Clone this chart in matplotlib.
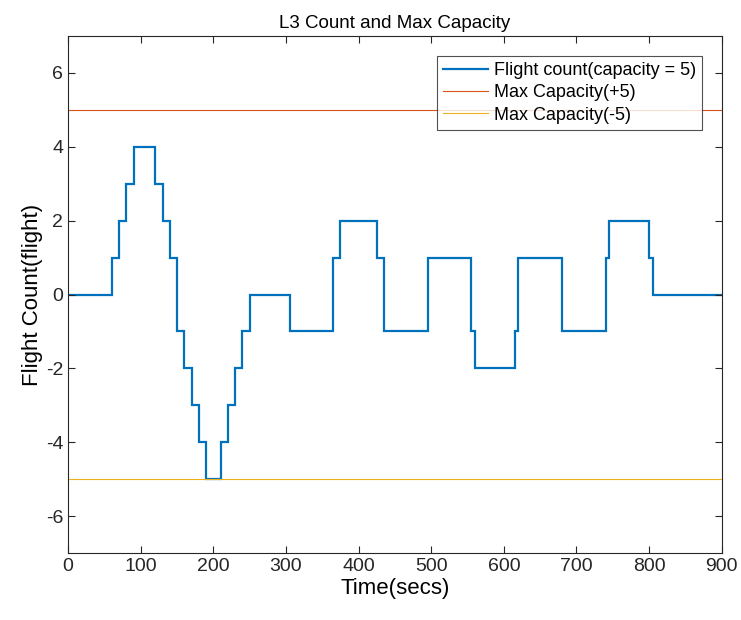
import numpy as np
import matplotlib.pyplot as plt

plt.rcParams['font.family'] = ['Liberation Sans', 'DejaVu Sans']
plt.rcParams['axes.unicode_minus'] = False

# step change times (secs) and flight count held after each time
times = [0, 60, 70, 80, 90, 120, 130, 140, 150, 160, 170, 180, 190, 210, 220, 230,
         240, 250, 305, 365, 375, 425, 435, 495, 555, 560, 615, 620, 680, 740, 745,
         800, 805, 900]
counts = [0, 1, 2, 3, 4, 3, 2, 1, -1, -2, -3, -4, -5, -4, -3, -2, -1, 0, -1, 1, 2,
          1, -1, 1, -1, -2, -1, 1, -1, 1, 2, 1, 0]
cap_max = 5
cap_min = -5

fig = plt.figure(figsize=(7.41, 6.20), dpi=100)
ax = fig.add_axes([0.092, 0.108, 0.882, 0.834])

ax.stairs(counts, times, color='#0072BD', linewidth=1.6, label='Flight count(capacity = 5)')
ax.axhline(cap_max, color='#D95319', linewidth=0.8, label='Max Capacity(+5)')
ax.axhline(cap_min, color='#EDB120', linewidth=0.8, label='Max Capacity(-5)')

ax.set_xlim(0, 900)
ax.set_ylim(-7, 7)
ax.set_xticks(np.arange(0, 901, 100))
ax.set_yticks(np.arange(-6, 7, 2))
ax.tick_params(direction='in', top=True, right=True, labelsize=14, length=5, colors='#262626')
for s in ax.spines.values():
    s.set_color('#262626')
    s.set_linewidth(0.8)

ax.set_xlabel('Time(secs)', fontsize=16, labelpad=2)
ax.set_ylabel('Flight Count(flight)', fontsize=16, labelpad=2)
ax.set_title('L3 Count and Max Capacity', fontsize=13.5, pad=6)

leg = ax.legend(loc='upper right', bbox_to_anchor=(0.97, 0.962), fontsize=13,
                frameon=True, fancybox=False, edgecolor='#262626', borderpad=0.35,
                labelspacing=0.3, handlelength=2.5, handletextpad=0.3, borderaxespad=0)
leg.get_frame().set_linewidth(0.8)

fig.savefig('out.png', dpi=100)
